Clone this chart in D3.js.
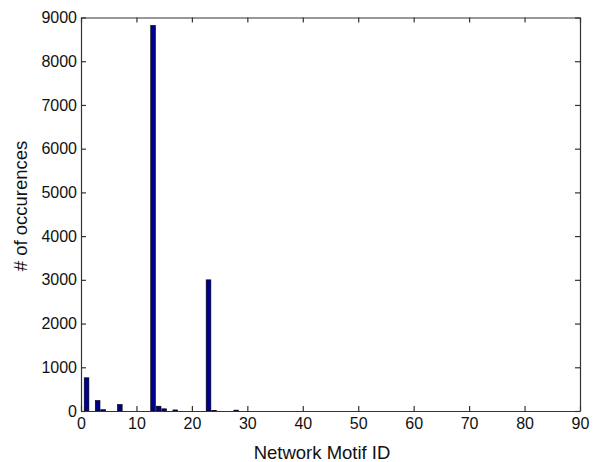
<!DOCTYPE html>
<html>
<head>
<meta charset="utf-8">
<script src="https://cdn.jsdelivr.net/npm/d3@7"></script>
<style>
  body { margin: 0; background: #fff; }
  svg { display: block; font-family: "Liberation Sans", Arial, sans-serif; }
</style>
</head>
<body>
<svg id="chart" width="595" height="462"></svg>
<script>
// Motif IDs with a non-zero count, and their occurrence counts
const motifIds = [1, 3, 4, 7, 13, 14, 15, 17, 23, 24, 28];
const occurrences = [760, 240, 30, 150, 8820, 110, 50, 25, 3000, 12, 20];
const xTicks = [0, 10, 20, 30, 40, 50, 60, 70, 80, 90];
const yTicks = [0, 1000, 2000, 3000, 4000, 5000, 6000, 7000, 8000, 9000];

const svg = d3.select("#chart");
const m = { left: 81, right: 15, top: 17.5, bottom: 51 };
const W = 595, H = 462;

const x = d3.scaleLinear().domain([0, 90]).range([m.left, W - m.right]);
const y = d3.scaleLinear().domain([0, 9000]).range([H - m.bottom, m.top]);

const barW = (x(1) - x(0)) * 0.85;

// bars
svg.append("g").selectAll("rect")
  .data(motifIds.map((id, i) => ({ id, v: occurrences[i] })))
  .join("rect")
  .attr("x", d => x(d.id) - barW / 2)
  .attr("width", barW)
  .attr("y", d => y(d.v))
  .attr("height", d => y(0) - y(d.v))
  .attr("fill", "#00008c")
  .attr("stroke", "#000")
  .attr("stroke-width", 0.6);

const axisColor = "#333";
const fs = "16px";
const fmt = d3.format("d");

// axes with inward ticks on all four sides
const axBottom = svg.append("g").attr("transform", `translate(0,${y(0)})`)
  .call(d3.axisBottom(x).tickValues(xTicks).tickFormat(fmt).tickSizeInner(-5).tickSizeOuter(0));
const axTop = svg.append("g").attr("transform", `translate(0,${y(9000)})`)
  .call(d3.axisTop(x).tickValues(xTicks).tickSizeInner(-5).tickSizeOuter(0).tickFormat(""));
const axLeft = svg.append("g").attr("transform", `translate(${x(0)},0)`)
  .call(d3.axisLeft(y).tickValues(yTicks).tickFormat(fmt).tickSizeInner(-5).tickSizeOuter(0));
const axRight = svg.append("g").attr("transform", `translate(${x(90)},0)`)
  .call(d3.axisRight(y).tickValues(yTicks).tickSizeInner(-5).tickSizeOuter(0).tickFormat(""));

[axBottom, axTop, axLeft, axRight].forEach(g => {
  g.selectAll("path, line").attr("stroke", axisColor).attr("stroke-width", 1.2);
  g.selectAll("text").attr("fill", "#111").style("font-size", fs)
    .style("font-family", "'Liberation Sans', Arial, sans-serif");
});
axBottom.selectAll("text").attr("dy", "0.71em").attr("y", 7);
axLeft.selectAll("text").attr("x", -4);

// axis titles
svg.append("text")
  .attr("x", 322)
  .attr("y", 459)
  .attr("text-anchor", "middle")
  .style("font-size", "18.5px")
  .attr("fill", "#111")
  .text("Network Motif ID");

svg.append("text")
  .attr("transform", `translate(27,206) rotate(-90)`)
  .attr("text-anchor", "middle")
  .style("font-size", "18.5px")
  .attr("fill", "#111")
  .text("# of occurences");
</script>
</body>
</html>
